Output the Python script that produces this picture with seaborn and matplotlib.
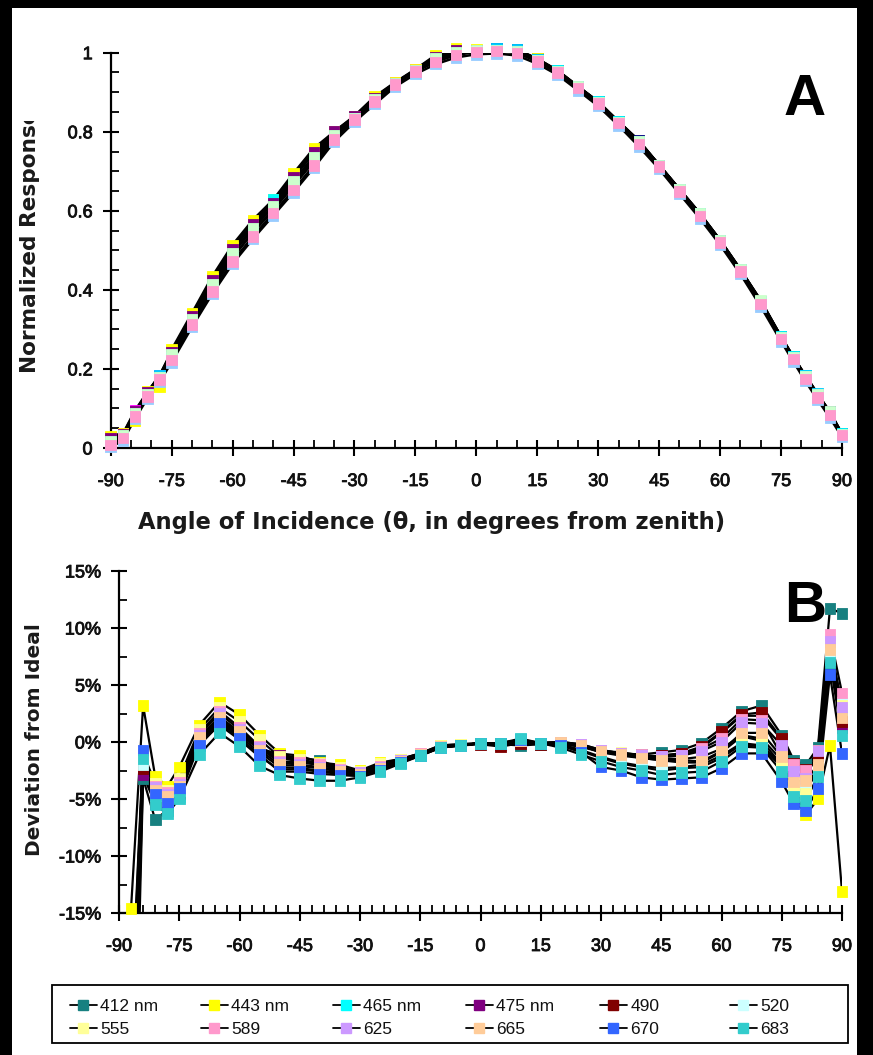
import numpy as np
import pandas as pd
import matplotlib
matplotlib.use("Agg")
import matplotlib.pyplot as plt
import seaborn as sns
from matplotlib.lines import Line2D
from matplotlib.patches import Rectangle
from matplotlib.transforms import Bbox
from matplotlib.ticker import MultipleLocator, FuncFormatter
import matplotlib.patheffects as pe

# ---------------- data ----------------
series = ["412 nm", "443 nm", "465 nm", "475 nm", "490", "520",
          "555", "589", "625", "665", "670", "683"]

colors_b = ["#178080", "#FFFF00", "#00FFFF", "#800080", "#800000", "#CCFFFF",
            "#FFFF99", "#FF99CC", "#CC99FF", "#FFCC99", "#3366FF", "#33CCCC"]
colors_a = ["#000080", "#FF00FF", "#FFFF00", "#00FFFF", "#800080", "#800000",
            "#008080", "#0000FF", "#00CCFF", "#CCFFCC", "#99CCFF", "#FF99CC"]

angles_a = [-90, -87, -84, -81, -78, -75, -70, -65, -60, -55, -50, -45, -40, -35,
            -30, -25, -20, -15, -10, -5, 0, 5, 10, 15, 20, 25, 30, 35, 40, 45, 50,
            55, 60, 65, 70, 75, 78, 81, 84, 87, 90]

# Panel A: normalized response
resp_412 = [0.024, 0.034, 0.092, 0.140, 0.182, 0.242, 0.333, 0.424, 0.503, 0.566, 0.620, 0.684, 0.747, 0.795,
            0.838, 0.885, 0.923, 0.956, 0.989, 1.006, 1.006, 1.010, 1.008, 0.985, 0.955, 0.915, 0.876, 0.826,
            0.778, 0.716, 0.655, 0.594, 0.526, 0.452, 0.372, 0.282, 0.231, 0.183, 0.136, 0.092, 0.036]
resp_443 = [0.026, 0.036, 0.095, 0.141, 0.183, 0.245, 0.337, 0.430, 0.508, 0.570, 0.624, 0.690, 0.752, 0.797,
            0.839, 0.887, 0.924, 0.957, 0.991, 1.007, 1.006, 1.007, 1.003, 0.981, 0.952, 0.913, 0.873, 0.824,
            0.773, 0.714, 0.652, 0.590, 0.523, 0.449, 0.368, 0.279, 0.228, 0.179, 0.132, 0.087, 0.034]
resp_465 = [0.029, 0.038, 0.070, 0.143, 0.154, 0.249, 0.341, 0.434, 0.514, 0.577, 0.628, 0.695, 0.758, 0.800,
            0.840, 0.889, 0.925, 0.958, 0.994, 1.010, 1.008, 1.008, 1.005, 0.985, 0.953, 0.914, 0.874, 0.825,
            0.775, 0.715, 0.653, 0.592, 0.524, 0.450, 0.372, 0.280, 0.229, 0.181, 0.134, 0.089, 0.035]
resp_475 = [0.018, 0.031, 0.088, 0.137, 0.179, 0.236, 0.326, 0.415, 0.493, 0.556, 0.628, 0.674, 0.736, 0.790,
            0.835, 0.882, 0.922, 0.955, 0.985, 1.002, 1.005, 1.009, 1.007, 0.984, 0.955, 0.915, 0.876, 0.826,
            0.777, 0.716, 0.655, 0.594, 0.526, 0.452, 0.371, 0.282, 0.231, 0.183, 0.136, 0.091, 0.036]
resp_490 = [0.024, 0.034, 0.092, 0.140, 0.182, 0.242, 0.333, 0.424, 0.503, 0.566, 0.620, 0.684, 0.747, 0.800,
            0.838, 0.885, 0.923, 0.956, 0.989, 1.006, 1.006, 1.007, 1.003, 0.981, 0.952, 0.913, 0.873, 0.824,
            0.773, 0.714, 0.652, 0.590, 0.523, 0.449, 0.368, 0.279, 0.228, 0.179, 0.132, 0.087, 0.034]
resp_520 = [0.018, 0.031, 0.088, 0.137, 0.179, 0.236, 0.326, 0.415, 0.493, 0.556, 0.611, 0.674, 0.736, 0.790,
            0.835, 0.882, 0.922, 0.955, 0.985, 1.002, 1.005, 1.007, 1.003, 0.981, 0.952, 0.913, 0.873, 0.824,
            0.773, 0.714, 0.652, 0.590, 0.523, 0.449, 0.368, 0.279, 0.228, 0.179, 0.132, 0.087, 0.034]
resp_555 = [0.018, 0.031, 0.088, 0.137, 0.179, 0.236, 0.326, 0.415, 0.493, 0.556, 0.611, 0.674, 0.736, 0.790,
            0.835, 0.882, 0.922, 0.955, 0.985, 1.002, 1.005, 1.008, 1.005, 0.983, 0.953, 0.914, 0.874, 0.825,
            0.775, 0.715, 0.653, 0.592, 0.524, 0.450, 0.370, 0.280, 0.229, 0.181, 0.134, 0.089, 0.035]
resp_589 = [0.013, 0.028, 0.084, 0.134, 0.176, 0.230, 0.319, 0.405, 0.482, 0.546, 0.602, 0.663, 0.725, 0.785,
            0.833, 0.879, 0.921, 0.953, 0.981, 0.998, 1.003, 1.005, 1.001, 0.979, 0.951, 0.912, 0.872, 0.823,
            0.771, 0.713, 0.650, 0.588, 0.521, 0.447, 0.366, 0.277, 0.226, 0.177, 0.130, 0.085, 0.033]
resp_625 = [0.013, 0.028, 0.084, 0.134, 0.185, 0.230, 0.319, 0.405, 0.482, 0.546, 0.602, 0.672, 0.725, 0.785,
            0.833, 0.879, 0.921, 0.953, 0.981, 0.998, 1.003, 1.010, 1.008, 0.983, 0.953, 0.914, 0.874, 0.825,
            0.775, 0.715, 0.653, 0.592, 0.526, 0.450, 0.370, 0.280, 0.229, 0.183, 0.138, 0.089, 0.035]
resp_665 = [0.018, 0.031, 0.088, 0.137, 0.179, 0.236, 0.326, 0.415, 0.493, 0.556, 0.611, 0.674, 0.736, 0.790,
            0.835, 0.882, 0.922, 0.955, 0.985, 1.002, 1.005, 1.006, 1.004, 0.982, 0.954, 0.914, 0.875, 0.825,
            0.776, 0.716, 0.654, 0.593, 0.525, 0.451, 0.374, 0.281, 0.230, 0.182, 0.135, 0.092, 0.035]
resp_670 = [0.002, 0.019, 0.074, 0.125, 0.167, 0.217, 0.306, 0.390, 0.466, 0.529, 0.588, 0.647, 0.709, 0.775,
            0.825, 0.870, 0.914, 0.946, 0.971, 0.988, 0.996, 0.998, 0.993, 0.972, 0.944, 0.905, 0.865, 0.816,
            0.763, 0.706, 0.643, 0.581, 0.514, 0.440, 0.358, 0.270, 0.219, 0.169, 0.122, 0.077, 0.028]
resp_683 = [0.008, 0.025, 0.080, 0.131, 0.173, 0.223, 0.312, 0.396, 0.472, 0.535, 0.594, 0.653, 0.715, 0.781,
            0.831, 0.876, 0.920, 0.952, 0.977, 0.994, 1.002, 1.004, 0.999, 0.978, 0.950, 0.911, 0.871, 0.822,
            0.769, 0.712, 0.649, 0.587, 0.520, 0.446, 0.364, 0.276, 0.225, 0.175, 0.128, 0.083, 0.033]

angles_b = [-87, -84, -81, -78, -75, -70, -65, -60, -55, -50, -45, -40, -35, -30, -25,
            -20, -15, -10, -5, 0, 5, 10, 15, 20, 25, 30, 35, 40, 45, 50, 55, 60, 65,
            70, 75, 78, 81, 84, 87, 90]

# Panel B: deviation from ideal (%)
dev_412 = [-45, -3.2, -6.8, -6.0, -4.6, 0.0, 1.8, 0.6, -0.6, -1.1, -1.4, -1.6, -2.3, -2.6, -2.1, -1.6, -1.0, -0.4, -0.3, -0.1,
           -0.2, -0.3, -0.2, -0.2, -0.4, -0.8, -1.0, -1.1, -0.9, -0.7, -0.1, 1.2, 2.7, 3.2, 0.6, -1.6, -2.0, -0.5, 11.7, 11.3]
dev_443 = [-14.6, 3.2, -3.0, -3.9, -2.2, 1.5, 3.5, 2.4, 0.6, -1.0, -1.2, -1.8, -2.0, -2.5, -1.8, -1.5, -1.0, -0.3, -0.2, -0.1,
           -0.1, 0.1, -0.1, -0.1, -0.4, -0.9, -1.0, -1.4, -1.6, -1.8, -1.8, -0.9, 0.5, 0.1, -2.0, -4.3, -6.4, -5.0, -0.3, -13.1]
dev_465 = [-30, -1.8, -4.9, -5.3, -4.8, -0.2, 1.5, 0.2, -1.3, -2.4, -2.4, -2.6, -2.8, -2.9, -2.4, -1.8, -1.2, -0.5, -0.3, -0.1,
           -0.1, 0.1, -0.1, -0.3, -0.8, -1.4, -1.9, -2.2, -2.5, -2.3, -2.2, -1.4, -0.2, -0.4, -2.2, -4.3, -3.9, -2.8, 7.2, 2.5]
dev_475 = [-38, -2.9, -5.4, -5.7, -4.5, 0.1, 1.9, 0.7, -0.5, -1.2, -1.6, -1.9, -2.3, -2.7, -2.2, -1.6, -1.1, -0.4, -0.3, -0.1,
           -0.2, 0.0, -0.1, -0.1, -0.3, -0.9, -1.1, -1.3, -1.2, -1.0, -0.5, 0.8, 2.3, 2.3, 0.2, -2.0, -2.6, -1.4, 7.6, 1.3]
dev_490 = [-35, -2.3, -5.2, -5.5, -4.4, 0.2, 2.0, 0.8, -0.6, -1.4, -1.7, -2.0, -2.4, -2.8, -2.2, -1.7, -1.1, -0.4, -0.3, -0.2,
           -0.4, -0.1, -0.2, -0.1, -0.3, -0.9, -1.2, -1.4, -1.2, -1.0, -0.4, 0.9, 2.4, 2.6, 0.3, -1.9, -2.4, -1.5, 7.5, 1.8]
dev_520 = [-28, -2.0, -4.7, -5.1, -4.3, -0.1, 1.7, 0.5, -0.9, -2.2, -2.3, -2.5, -2.7, -2.9, -2.3, -1.7, -1.1, -0.5, -0.3, -0.1,
           -0.1, 0.2, -0.1, -0.2, -0.7, -1.3, -1.8, -2.1, -2.3, -2.2, -2.0, -1.2, -0.1, -0.3, -2.0, -4.0, -3.6, -2.5, 7.8, 3.5]
dev_555 = [-25, -1.0, -3.6, -4.2, -3.2, 1.1, 3.0, 1.8, 0.2, -1.3, -1.5, -1.9, -2.2, -2.6, -1.9, -1.5, -1.0, -0.3, -0.2, -0.1,
           -0.1, 0.1, -0.1, 0.0, -0.3, -0.8, -0.9, -1.2, -1.5, -1.5, -1.3, -0.6, 0.6, 0.3, -1.6, -3.8, -4.5, -2.2, 8.4, 3.2]
dev_589 = [-27, -1.1, -3.9, -4.4, -3.5, 0.8, 2.7, 1.3, -0.4, -1.7, -1.8, -2.0, -2.4, -2.7, -2.1, -1.6, -1.0, -0.4, -0.3, -0.1,
           -0.1, 0.1, -0.1, 0.0, -0.2, -0.7, -1.0, -1.1, -1.3, -1.2, -0.6, 0.3, 2.0, 1.9, -1.2, -2.0, -2.5, -0.7, 9.4, 4.3]
dev_625 = [-29, -1.2, -4.0, -4.6, -3.7, 0.6, 2.5, 1.1, -0.5, -1.8, -2.0, -2.2, -2.5, -2.7, -2.2, -1.6, -1.1, -0.4, -0.3, -0.1,
           -0.1, 0.1, -0.1, 0.0, -0.2, -0.7, -1.0, -1.2, -1.3, -1.2, -0.8, 0.0, 1.7, 1.6, -0.3, -2.6, -3.2, -0.8, 8.8, 3.0]
dev_665 = [-31, -1.3, -4.2, -4.8, -3.9, 0.4, 2.2, 0.9, -0.7, -2.0, -2.1, -2.3, -2.6, -2.8, -2.3, -1.7, -1.1, -0.4, -0.3, -0.1,
           -0.1, 0.1, -0.1, 0.0, -0.3, -0.8, -1.1, -1.4, -1.6, -1.6, -1.7, -0.8, 0.8, 0.8, -1.3, -3.5, -3.4, -2.0, 8.1, 2.1]
dev_670 = [-24, -0.7, -4.6, -5.4, -4.1, -0.3, 1.6, 0.3, -1.1, -2.6, -2.6, -2.8, -2.9, -3.0, -2.5, -1.8, -1.2, -0.5, -0.3, -0.1,
           -0.1, 0.2, -0.1, -0.3, -0.9, -2.2, -2.5, -3.1, -3.3, -3.2, -3.1, -2.3, -1.0, -1.0, -3.5, -5.4, -6.0, -4.1, 5.9, -1.0]
dev_683 = [-26, -1.5, -5.5, -6.3, -5.0, -1.1, 0.8, -0.4, -2.1, -2.9, -3.2, -3.4, -3.4, -3.1, -2.6, -1.9, -1.2, -0.5, -0.3, -0.1,
           -0.1, 0.3, -0.1, -0.5, -1.1, -1.7, -2.2, -2.5, -2.9, -2.7, -2.6, -1.7, -0.4, -0.5, -2.6, -4.8, -5.1, -3.0, 7.0, 0.6]

resp_all = [resp_412, resp_443, resp_465, resp_475, resp_490, resp_520,
            resp_555, resp_589, resp_625, resp_665, resp_670, resp_683]
dev_all = [dev_412, dev_443, dev_465, dev_475, dev_490, dev_520,
           dev_555, dev_589, dev_625, dev_665, dev_670, dev_683]

df_a = pd.concat([pd.DataFrame({"angle": angles_a, "value": v, "series": s})
                  for s, v in zip(series, resp_all)], ignore_index=True)
df_b = pd.concat([pd.DataFrame({"angle": angles_b, "value": v, "series": s})
                  for s, v in zip(series, dev_all)], ignore_index=True)

# ---------------- figure ----------------
sns.set_theme(style="white")
plt.rcParams['font.family'] = ['Liberation Sans', 'DejaVu Sans']
plt.rcParams['axes.unicode_minus'] = False
W, H = 873, 1055
fig = plt.figure(figsize=(W / 100, H / 100), dpi=100)
fig.patch.set_facecolor("black")
fig.add_artist(Rectangle((12 / W, 0), (857 - 12) / W, (H - 8) / H, transform=fig.transFigure,
                         facecolor="white", edgecolor="none", zorder=-10))


def px(x, y):
    return x / W, 1 - y / H


axA = fig.add_axes([110.7 / W, 1 - 448 / H, (842 - 110.7) / W, (448 - 52.7) / H])
axB = fig.add_axes([119 / W, 1 - 913 / H, (842 - 119) / W, (913 - 571) / H])

pal_a = dict(zip(series, colors_a))
pal_b = dict(zip(series, colors_b))

# Panel A
sns.lineplot(data=df_a, x="angle", y="value", units="series", estimator=None, color="black",
             lw=1.8, sort=False, ax=axA, legend=False, zorder=2)
sns.scatterplot(data=df_a, x="angle", y="value", hue="series", palette=pal_a, marker="s", s=58,
                edgecolor="face", linewidth=0.6, legend=False, ax=axA, zorder=3, clip_on=False)

# Panel B
sns.lineplot(data=df_b, x="angle", y="value", units="series", estimator=None, color="black",
             lw=1.6, sort=False, ax=axB, legend=False, zorder=2)
df_b_vis = df_b[(df_b["value"] >= -15.5) & (df_b["value"] <= 15.5)]
sns.scatterplot(data=df_b_vis, x="angle", y="value", hue="series", palette=pal_b, marker="s", s=60,
                edgecolor="face", linewidth=0.6, legend=False, ax=axB, zorder=3, clip_on=False)

stroke = [pe.withStroke(linewidth=0.6, foreground="#111111")]
for ax in (axA, axB):
    ax.set_facecolor("none")
    ax.set_xlim(-90, 90)
    for sp in ("top", "right"):
        ax.spines[sp].set_visible(False)
    for sp in ("left", "bottom"):
        ax.spines[sp].set_color("black")
        ax.spines[sp].set_linewidth(1.6)
    ax.set_xlabel("")
    ax.set_ylabel("")
    ax.xaxis.set_major_locator(MultipleLocator(15))
    ax.tick_params(which="both", bottom=True, left=True, top=False, right=False)
    ax.tick_params(which="major", direction="inout", length=12, width=1.5, colors="black",
                   labelsize=13, labelcolor="#111111")
    ax.tick_params(which="minor", direction="in", length=5.5, width=1.3, colors="black")
    ax.tick_params(axis="x", which="major", pad=12)
    ax.tick_params(axis="y", which="major", pad=7)
    ax.grid(False)

axA.set_ylim(0, 1)
axA.xaxis.set_minor_locator(MultipleLocator(5))
axA.yaxis.set_major_locator(MultipleLocator(0.2))
axA.yaxis.set_minor_locator(MultipleLocator(0.05))
axA.yaxis.set_major_formatter(FuncFormatter(lambda v, p: "0" if abs(v) < 1e-9 else ("1" if abs(v - 1) < 1e-9 else f"{v:.1f}")))

axB.set_ylim(-15, 15)
axB.xaxis.set_minor_locator(MultipleLocator(3))
axB.yaxis.set_major_locator(MultipleLocator(5))
axB.yaxis.set_minor_locator(MultipleLocator(2.5))
axB.yaxis.set_major_formatter(FuncFormatter(lambda v, p: f"{v:.0f}%"))

for ax in (axA, axB):
    for lab in ax.get_xticklabels() + ax.get_yticklabels():
        lab.set_path_effects(stroke)

# Labels (wide face to match the stretched lettering of the original)
lab_font = dict(family=["DejaVu Sans"], fontweight="bold", color="#1a1a1a")
fig.text(*px(432, 522), "Angle of Incidence (\u03b8, in degrees from zenith)", ha="center", va="center",
         fontsize=16.3, **lab_font)
t = fig.text(*px(30, 373), "Normalized Response", rotation=90, ha="center", va="bottom",
             fontsize=15.6, **lab_font)
t.set_clip_box(Bbox([[0, 0], [W, H - 121]]))
t.set_clip_on(True)
fig.text(*px(35, 856), "Deviation from Ideal", rotation=90, ha="center", va="bottom",
         fontsize=14.5, **lab_font)
fig.text(*px(805, 100), "A", ha="center", va="center", fontsize=42, fontweight="bold", color="black")
fig.text(*px(805, 607), "B", ha="center", va="center", fontsize=42, fontweight="bold", color="black")

# Legend: six columns with fixed pitch inside one frame
fig.add_artist(Rectangle((52 / W, 1 - 1043 / H), (848 - 52) / W, (1043 - 985) / H,
                         transform=fig.transFigure, facecolor="white", edgecolor="black",
                         linewidth=1.3, zorder=5))
col_x = [70, 201, 333, 466, 600, 730]
for j in range(6):
    idx = [j, j + 6]
    hs = [Line2D([0], [0], color="black", lw=1.3, marker="s", markersize=7,
                 markerfacecolor=colors_b[i], markeredgecolor=colors_b[i]) for i in idx]
    lg = fig.legend(hs, [series[i] for i in idx], loc="center left",
                    bbox_to_anchor=(col_x[j] / W, 1 - 1018 / H), bbox_transform=fig.transFigure,
                    frameon=False, fontsize=12.5, handlelength=1.55, handletextpad=0.2,
                    borderaxespad=0, borderpad=0, labelspacing=0.5)
    lg.set_zorder(6)
    for txt in lg.get_texts():
        txt.set_color("#111111")

fig.savefig("out.png", dpi=100, facecolor=fig.get_facecolor())
